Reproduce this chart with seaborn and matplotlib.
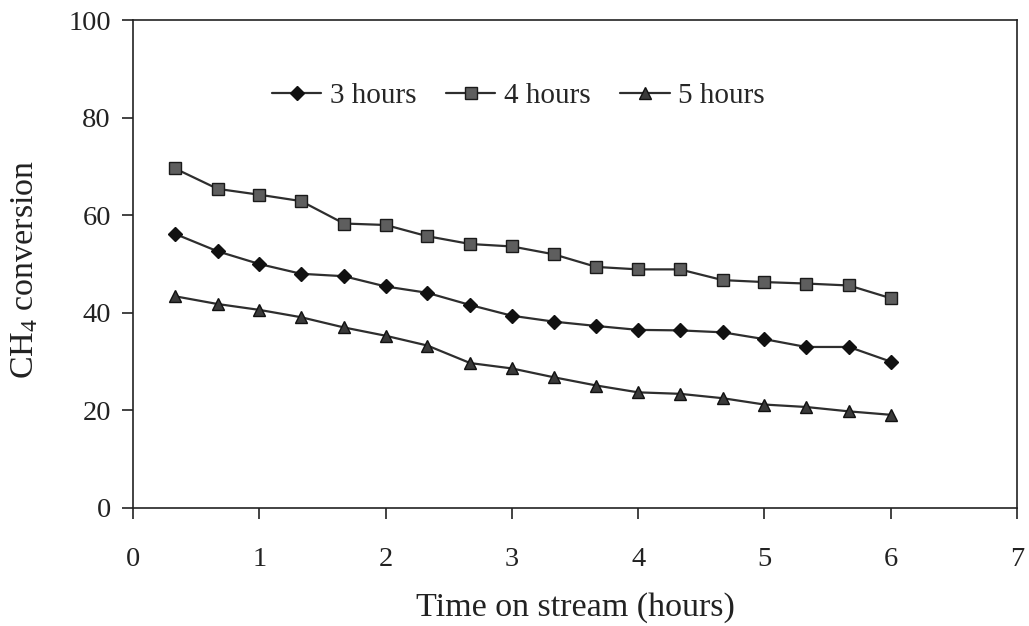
import pandas as pd
import matplotlib.pyplot as plt
import seaborn as sns

# =========================================
# DATA
# =========================================

time_h = [0.33, 0.67, 1.0, 1.33, 1.67, 2.0, 2.33, 2.67, 3.0,
          3.33, 3.67, 4.0, 4.33, 4.67, 5.0, 5.33, 5.67, 6.0]

conv_3h = [56.2, 52.6, 50.0, 48.0, 47.5, 45.4, 44.1, 41.6, 39.4,
           38.2, 37.3, 36.5, 36.4, 36.0, 34.6, 33.0, 33.0, 30.0]

conv_4h = [69.6, 65.4, 64.2, 62.9, 58.3, 58.0, 55.7, 54.1, 53.6,
           52.0, 49.4, 48.9, 48.9, 46.7, 46.3, 46.0, 45.6, 43.0]

conv_5h = [43.4, 41.8, 40.6, 39.1, 37.0, 35.3, 33.3, 29.7, 28.6,
           26.8, 25.1, 23.7, 23.4, 22.5, 21.2, 20.7, 19.8, 19.1]

series_labels = ["3 hours", "4 hours", "5 hours"]
x_ticks = [0, 1, 2, 3, 4, 5, 6, 7]
y_ticks = [0, 20, 40, 60, 80, 100]

# =========================================
# STYLE
# =========================================

sns.set_style("white")
plt.rcParams["font.family"] = ["Liberation Serif", "DejaVu Serif"]
plt.rcParams["mathtext.fontset"] = "custom"
plt.rcParams["mathtext.rm"] = "Liberation Serif"
plt.rcParams["mathtext.it"] = "Liberation Serif:italic"

TICK_SIZE = 20.5
LABEL_SIZE = 24.5
LEGEND_SIZE = 21
TEXT_COLOR = "#222222"

fig = plt.figure(figsize=(10.29, 6.26), dpi=100)
ax = fig.add_axes([0.1293, 0.1885, 0.8590, 0.7795])

styles = {
    "3 hours": dict(marker="D", markersize=7, markerfacecolor="#111111",
                    markeredgecolor="#111111"),
    "4 hours": dict(marker="s", markersize=9, markerfacecolor="#5e5e5e",
                    markeredgecolor="#1a1a1a"),
    "5 hours": dict(marker="^", markersize=9, markerfacecolor="#3a3a3a",
                    markeredgecolor="#111111"),
}

for label, values in zip(series_labels, [conv_3h, conv_4h, conv_5h]):
    df = pd.DataFrame({"time": time_h, "conversion": values})
    sns.lineplot(
        data=df, x="time", y="conversion", ax=ax,
        color="#2e2e2e", linewidth=1.6, label=label,
        markeredgewidth=1.0, **styles[label]
    )

# =========================================
# AXES
# =========================================

ax.set_xlim(0, 7)
ax.set_ylim(0, 100)
ax.set_xticks(x_ticks)
ax.set_yticks(y_ticks)
ax.tick_params(axis="both", direction="out", length=8, width=1.2,
               color=TEXT_COLOR, labelsize=TICK_SIZE, labelcolor=TEXT_COLOR)
ax.tick_params(axis="x", pad=20, bottom=True)
ax.tick_params(axis="y", pad=8, left=True)

for spine in ax.spines.values():
    spine.set_visible(True)
    spine.set_color(TEXT_COLOR)
    spine.set_linewidth(1.2)

ax.set_xlabel("Time on stream (hours)", fontsize=LABEL_SIZE, color=TEXT_COLOR)
ax.set_ylabel(r"CH$_4$ conversion", fontsize=LABEL_SIZE, color=TEXT_COLOR)
ax.xaxis.set_label_coords(0.5, -0.172)
ax.yaxis.set_label_coords(-0.105, 0.49)

ax.legend(
    loc="center", bbox_to_anchor=(0.436, 0.845), ncol=3, frameon=False,
    fontsize=LEGEND_SIZE, handlelength=1.7, columnspacing=1.0,
    handletextpad=0.3
)

plt.savefig("out.png", dpi=100)
plt.close()
